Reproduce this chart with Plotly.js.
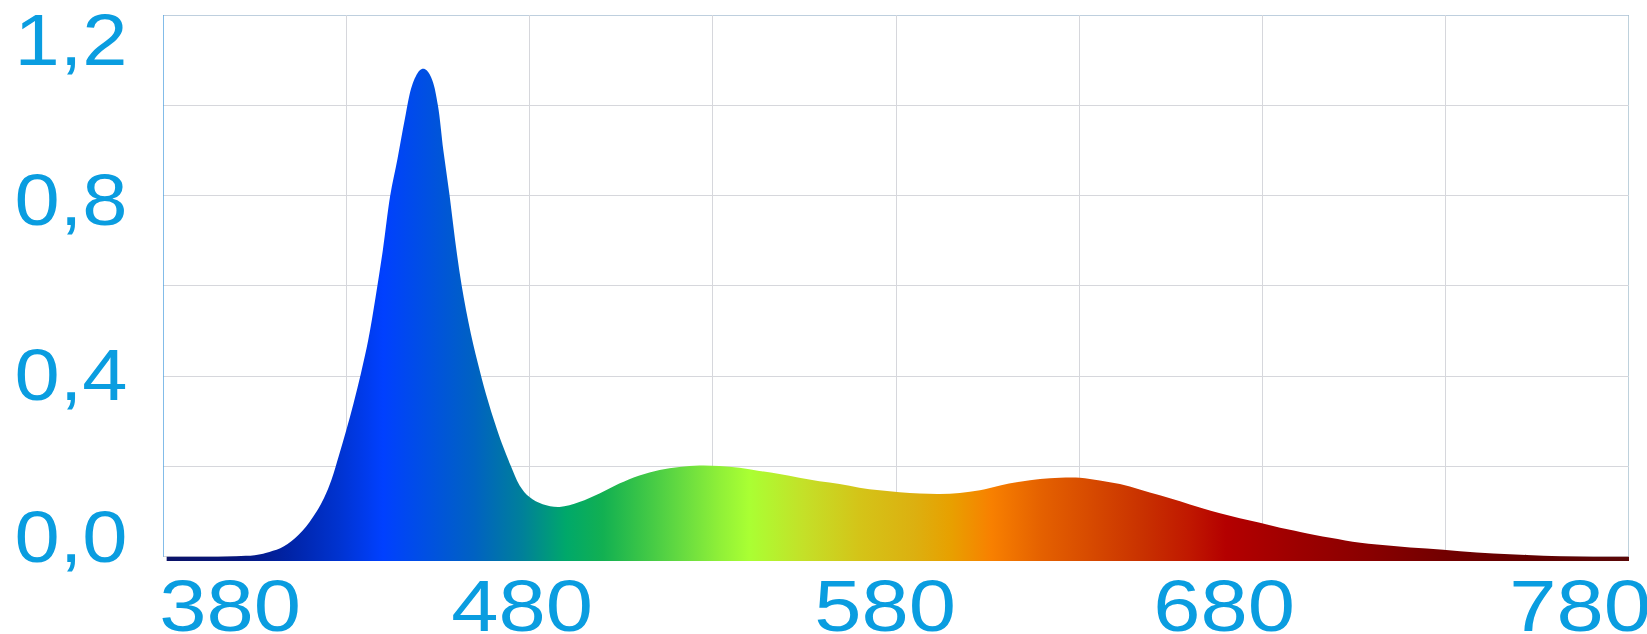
<!DOCTYPE html>
<html>
<head>
<meta charset="utf-8">
<script src="https://cdn.plot.ly/plotly-3.0.1.min.js"></script>
<style>
  html, body { margin: 0; padding: 0; background: #ffffff; }
  #chart { width: 1647px; height: 634px; }
</style>
</head>
<body>
<div id="chart"></div>
<script>
// ---- data ----
const wavelengths = [
  381, 385, 390, 395, 400, 405, 408, 410, 412, 414, 416, 418, 420, 422, 424, 426, 428, 430,
  432, 434, 436, 438, 440, 442, 444, 446, 448, 450, 451, 452, 453.5, 455, 456.5, 458.2,
  459.7, 461.5, 464, 466.5, 468.5, 470.6, 472.5, 474.8, 477.3, 480, 483.6, 488.2, 493.6, 499.1,
  504.5, 510, 515.5, 520.9, 526.4, 531.8, 537.3, 542.7, 548.2, 553.6, 559.1, 564.6, 570,
  575.5, 581, 586.5, 592, 597.4, 602.9, 608.4, 613.8, 619.3, 624.7, 630.2, 635.6, 641.1,
  646.5, 652, 657.5, 662.9, 668.4, 673.8, 679.3, 684.8, 690.3, 698.5, 706.7, 715.8, 724.8,
  733.9, 743, 752.1, 761.2, 770.2, 780
];
const intensity = [
  0.000, 0.000, 0.000, 0.000, 0.001, 0.003, 0.008, 0.013, 0.019, 0.028, 0.041, 0.057, 0.077, 0.101, 0.131, 0.171, 0.224, 0.280,
  0.340, 0.406, 0.480, 0.575, 0.680, 0.800, 0.882, 0.970, 1.045, 1.077, 1.081, 1.077, 1.055, 1.000, 0.900, 0.800,
  0.701, 0.600, 0.494, 0.410, 0.350, 0.295, 0.250, 0.203, 0.158, 0.132, 0.116, 0.110, 0.121, 0.140,
  0.162, 0.180, 0.192, 0.199, 0.202, 0.201, 0.197, 0.190, 0.183, 0.175, 0.167, 0.161, 0.153,
  0.147, 0.143, 0.140, 0.139, 0.141, 0.147, 0.158, 0.166, 0.172, 0.175, 0.175, 0.169, 0.161,
  0.149, 0.136, 0.123, 0.109, 0.096, 0.085, 0.075, 0.064, 0.055, 0.042, 0.031, 0.024, 0.018,
  0.012, 0.007, 0.004, 0.001, 0.000, 0.000
];
const xTickLabels = ['380', '480', '580', '680', '780'];
const yTickLabels = ['1,2', '0,8', '0,4', '0,0'];

// spectral colour stops (wavelength -> colour)
const gradWavelengths = [380, 400, 415, 428, 440, 452, 465, 478, 490, 500, 510, 522, 532, 540, 555, 570, 585, 595, 606, 620, 632, 648, 660, 670, 690, 710, 730, 755, 780];
const gradColors = ['#0b1266', '#06167c', '#0024a8', '#0033d0', '#0040ff', '#0050e2', '#0062c2', '#00809a', '#00a86a', '#12b052', '#38c448', '#68dc40', '#90f038', '#aaff33', '#c4e028', '#d4c418', '#dcb010', '#e8a000', '#f88000', '#e46000', '#d84c00', '#c83000', '#c01800', '#b40000', '#9c0000', '#880000', '#720000', '#600000', '#5a0808'];

// ---- layout constants ----
const W = 1647, H = 634;
const plotL = 163, plotR = 1629.3, plotT = 15, plotB = 560.8;
const yMin = -0.0095, yMax = 1.2, xMin = 380, xMax = 780;
const textColor = '#0a9de0';
const fontFamily = '"Liberation Sans", Arial, sans-serif';
const fontSize = 72;
const xStretch = 1.18, yStretch = 1.13;

// label pixel centres measured on the reference
const xLabelPx = [230.5, 522, 885, 1224.5, 1580];
const xLabelPy = 606;
const yLabelPx = 70.5;
const yLabelPy = [39.5, 200, 374.5, 537];

const pw = plotR - plotL, ph = plotB - plotT;
const toPaperX = px => (px - plotL) / pw;
const toPaperY = py => (plotB - py) / ph;

const colorscale = gradWavelengths.map((w, i) => [(w - xMin) / (xMax - xMin), gradColors[i]]);

const baseline = {
  x: [wavelengths[0], wavelengths[wavelengths.length - 1]],
  y: [yMin, yMin],
  mode: 'lines',
  line: { width: 0, color: 'rgba(0,0,0,0)' },
  hoverinfo: 'skip',
  showlegend: false
};
const spectrum = {
  x: wavelengths,
  y: intensity,
  mode: 'lines',
  line: { width: 0, shape: 'spline', smoothing: 1, color: 'rgba(0,0,0,0)' },
  fill: 'tonexty',
  fillgradient: { type: 'horizontal', start: xMin, stop: xMax, colorscale: colorscale },
  showlegend: false
};

const annotations = [];
xTickLabels.forEach((t, i) => annotations.push({
  text: t, xref: 'paper', yref: 'paper', x: toPaperX(xLabelPx[i]), y: toPaperY(xLabelPy),
  xanchor: 'center', yanchor: 'middle', showarrow: false,
  font: { family: fontFamily, size: fontSize, color: textColor }
}));
yTickLabels.forEach((t, i) => annotations.push({
  text: t, xref: 'paper', yref: 'paper', x: toPaperX(yLabelPx), y: toPaperY(yLabelPy[i]),
  xanchor: 'center', yanchor: 'middle', showarrow: false,
  font: { family: fontFamily, size: fontSize, color: textColor }
}));

const shapes = [
  { type: 'line', xref: 'x', yref: 'y', x0: xMin, x1: xMax, y0: yMax, y1: yMax, line: { color: '#a9bfd3', width: 1.3 }, layer: 'below' },
  { type: 'line', xref: 'x', yref: 'y', x0: xMax, x1: xMax, y0: 0, y1: yMax, line: { color: '#a9c2d0', width: 1.5 }, layer: 'below' },
  { type: 'line', xref: 'x', yref: 'y', x0: xMin, x1: xMin, y0: 0, y1: yMax, line: { color: '#5aa6e2', width: 1.5 }, layer: 'above' }
];

const layout = {
  width: W, height: H, autosize: false,
  margin: { l: plotL, r: W - plotR, t: plotT, b: H - plotB, pad: 0 },
  paper_bgcolor: '#ffffff', plot_bgcolor: '#ffffff',
  showlegend: false,
  xaxis: {
    range: [xMin, xMax], tick0: 380, dtick: 50, showgrid: true, gridcolor: '#d6d7dc', gridwidth: 1,
    zeroline: false, showline: false, showticklabels: false, ticks: ''
  },
  yaxis: {
    range: [yMin, yMax], tick0: 0, dtick: 0.2, showgrid: true, gridcolor: '#d6d7dc', gridwidth: 1,
    zeroline: false, showline: false, showticklabels: false, ticks: ''
  },
  annotations: annotations,
  shapes: shapes
};

Plotly.newPlot('chart', [baseline, spectrum], layout, { staticPlot: true, displayModeBar: false }).then(() => {
  document.querySelectorAll('.annotation-text').forEach((t, i) => {
    t.style.transformBox = 'fill-box';
    t.style.transformOrigin = 'center';
    t.style.transform = 'scaleX(' + (i < xTickLabels.length ? xStretch : yStretch) + ')';
  });
});
</script>
</body>
</html>
